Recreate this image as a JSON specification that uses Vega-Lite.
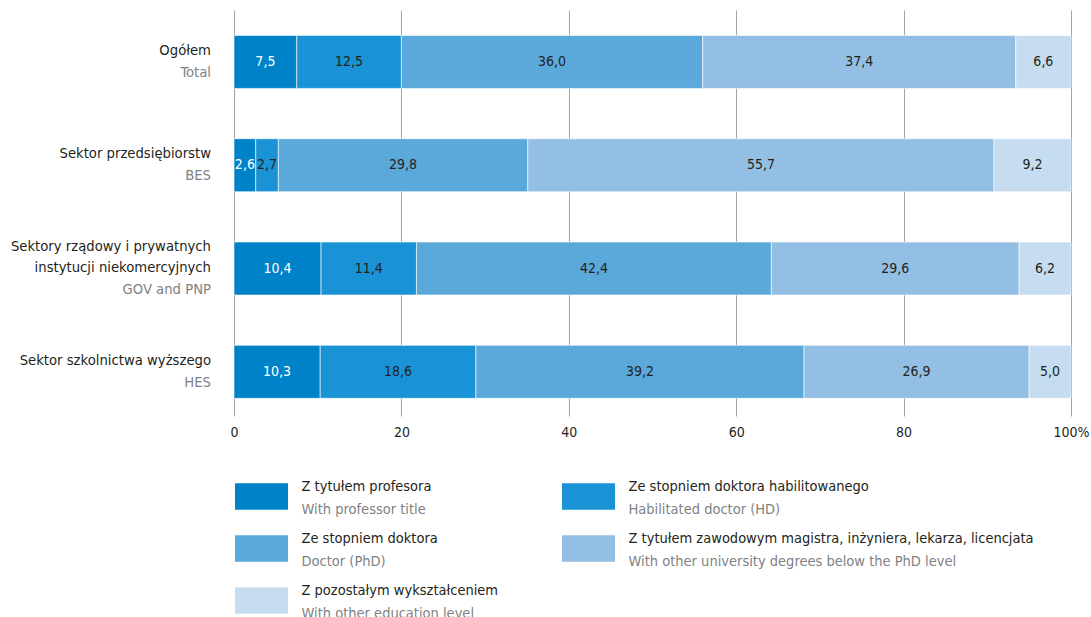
{
  "$schema": "https://vega.github.io/schema/vega-lite/v6.json",
  "autosize": {"type": "pad"},
  "padding": {"left": 10, "top": 10, "right": 0, "bottom": 0},
  "bounds": "flush",
  "spacing": 0,
  "config": {
    "view": {"stroke": null},
    "font": "DejaVu Sans Condensed, sans-serif",
    "text": {"font": "DejaVu Sans Condensed, sans-serif"}
  },
  "datasets": {
    "bars": [
      {"sector": "Total", "cat": "Z tytułem profesora", "k": 1, "v": 7.5},
      {"sector": "Total", "cat": "Ze stopniem doktora habilitowanego", "k": 2, "v": 12.5},
      {"sector": "Total", "cat": "Ze stopniem doktora", "k": 3, "v": 36.0},
      {"sector": "Total", "cat": "Z tytułem zawodowym magistra, inżyniera, lekarza, licencjata", "k": 4, "v": 37.4},
      {"sector": "Total", "cat": "Z pozostałym wykształceniem", "k": 5, "v": 6.6},
      {"sector": "BES", "cat": "Z tytułem profesora", "k": 1, "v": 2.6},
      {"sector": "BES", "cat": "Ze stopniem doktora habilitowanego", "k": 2, "v": 2.7},
      {"sector": "BES", "cat": "Ze stopniem doktora", "k": 3, "v": 29.8},
      {"sector": "BES", "cat": "Z tytułem zawodowym magistra, inżyniera, lekarza, licencjata", "k": 4, "v": 55.7},
      {"sector": "BES", "cat": "Z pozostałym wykształceniem", "k": 5, "v": 9.2},
      {"sector": "GOV and PNP", "cat": "Z tytułem profesora", "k": 1, "v": 10.4},
      {"sector": "GOV and PNP", "cat": "Ze stopniem doktora habilitowanego", "k": 2, "v": 11.4},
      {"sector": "GOV and PNP", "cat": "Ze stopniem doktora", "k": 3, "v": 42.4},
      {"sector": "GOV and PNP", "cat": "Z tytułem zawodowym magistra, inżyniera, lekarza, licencjata", "k": 4, "v": 29.6},
      {"sector": "GOV and PNP", "cat": "Z pozostałym wykształceniem", "k": 5, "v": 6.2},
      {"sector": "HES", "cat": "Z tytułem profesora", "k": 1, "v": 10.3},
      {"sector": "HES", "cat": "Ze stopniem doktora habilitowanego", "k": 2, "v": 18.6},
      {"sector": "HES", "cat": "Ze stopniem doktora", "k": 3, "v": 39.2},
      {"sector": "HES", "cat": "Z tytułem zawodowym magistra, inżyniera, lekarza, licencjata", "k": 4, "v": 26.9},
      {"sector": "HES", "cat": "Z pozostałym wykształceniem", "k": 5, "v": 5.0}
    ],
    "labels": [
      {"sector": "Total", "pl": "Ogółem", "en": "Total", "two": false},
      {"sector": "BES", "pl": "Sektor przedsiębiorstw", "en": "BES", "two": false},
      {"sector": "GOV and PNP", "pl": ["Sektory rządowy i prywatnych", "instytucji niekomercyjnych"], "en": "GOV and PNP", "two": true},
      {"sector": "HES", "pl": "Sektor szkolnictwa wyższego", "en": "HES", "two": false}
    ],
    "legend": [
      {"cat": "Z tytułem profesora", "en": "With professor title", "col": "c1", "row": "r1"},
      {"cat": "Ze stopniem doktora", "en": "Doctor (PhD)", "col": "c1", "row": "r2"},
      {"cat": "Z pozostałym wykształceniem", "en": "With other education level", "col": "c1", "row": "r3"},
      {"cat": "Ze stopniem doktora habilitowanego", "en": "Habilitated doctor (HD)", "col": "c2", "row": "r1"},
      {"cat": "Z tytułem zawodowym magistra, inżyniera, lekarza, licencjata", "en": "With other university degrees below the PhD level", "col": "c2", "row": "r2"}
    ]
  },
  "vconcat": [
    {
      "width": 837,
      "height": 406,
      "layer": [
        {
          "data": {"name": "bars"},
          "transform": [
            {"stack": "v", "groupby": ["sector"], "sort": [{"field": "k", "order": "ascending"}], "as": ["v0", "v1"]}
          ],
          "mark": {"type": "bar", "stroke": "white", "strokeWidth": 0.6},
          "encoding": {
            "y": {"field": "sector", "type": "nominal", "sort": ["Total", "BES", "GOV and PNP", "HES"], "axis": null,
                  "scale": {"paddingInner": 0.487, "paddingOuter": 0.2085, "align": 0.59}},
            "x": {"field": "v0", "type": "quantitative", "scale": {"domain": [0, 100], "nice": false},
                  "axis": {"values": [0, 20, 40, 60, 80, 100], "labelExpr": "datum.value == 100 ? '100%' : datum.label",
                           "domain": false, "ticks": false, "grid": true, "gridColor": "#a3a3a3", "gridWidth": 1,
                           "labelFontSize": 14, "labelColor": "#231f20", "labelPadding": 9, "title": null, "labelFlush": false,
                           "labelFont": "DejaVu Sans Condensed, sans-serif"}},
            "x2": {"field": "v1"},
            "color": {"field": "cat", "type": "nominal",
                      "scale": {"domain": ["Z tytułem profesora", "Ze stopniem doktora habilitowanego", "Ze stopniem doktora", "Z tytułem zawodowym magistra, inżyniera, lekarza, licencjata", "Z pozostałym wykształceniem"],
                                "range": ["#0082c8", "#1993d5", "#5ba8db", "#93bfe4", "#c6dcf0"]},
                      "legend": null}
          }
        },
        {
          "data": {"name": "bars"},
          "transform": [
            {"stack": "v", "groupby": ["sector"], "sort": [{"field": "k", "order": "ascending"}], "as": ["v0", "v1"]},
            {"calculate": "(datum.v0 + datum.v1) / 2", "as": "mid"},
            {"calculate": "replace(format(datum.v, '.1f'), '.', ',')", "as": "lab"}
          ],
          "mark": {"type": "text", "fontSize": 14, "baseline": "middle", "align": "center"},
          "encoding": {
            "y": {"field": "sector", "type": "nominal", "sort": ["Total", "BES", "GOV and PNP", "HES"]},
            "x": {"field": "mid", "type": "quantitative"},
            "text": {"field": "lab"},
            "color": {"condition": {"test": "datum.k === 1", "value": "#ffffff"}, "value": "#231f20"}
          }
        },
        {
          "data": {"name": "labels"},
          "transform": [{"filter": "!datum.two"}],
          "mark": {"type": "text", "fontSize": 14.7, "align": "right", "baseline": "middle", "dx": -23, "dy": -11, "color": "#231f20"},
          "encoding": {
            "y": {"field": "sector", "type": "nominal", "sort": ["Total", "BES", "GOV and PNP", "HES"]},
            "x": {"datum": 0, "type": "quantitative"},
            "text": {"field": "pl"}
          }
        },
        {
          "data": {"name": "labels"},
          "transform": [{"filter": "datum.two"}],
          "mark": {"type": "text", "fontSize": 14.7, "align": "right", "baseline": "middle", "dx": -23, "dy": -22, "lineHeight": 21.5, "color": "#231f20"},
          "encoding": {
            "y": {"field": "sector", "type": "nominal", "sort": ["Total", "BES", "GOV and PNP", "HES"]},
            "x": {"datum": 0, "type": "quantitative"},
            "text": {"field": "pl"}
          }
        },
        {
          "data": {"name": "labels"},
          "transform": [{"filter": "!datum.two"}],
          "mark": {"type": "text", "fontSize": 14.7, "align": "right", "baseline": "middle", "dx": -23, "dy": 11, "color": "#808285"},
          "encoding": {
            "y": {"field": "sector", "type": "nominal", "sort": ["Total", "BES", "GOV and PNP", "HES"]},
            "x": {"datum": 0, "type": "quantitative"},
            "text": {"field": "en"}
          }
        },
        {
          "data": {"name": "labels"},
          "transform": [{"filter": "datum.two"}],
          "mark": {"type": "text", "fontSize": 14.7, "align": "right", "baseline": "middle", "dx": -23, "dy": 21, "color": "#808285"},
          "encoding": {
            "y": {"field": "sector", "type": "nominal", "sort": ["Total", "BES", "GOV and PNP", "HES"]},
            "x": {"datum": 0, "type": "quantitative"},
            "text": {"field": "en"}
          }
        }
      ]
    },
    {
      "width": 837,
      "height": 201,
      "data": {"name": "legend"},
      "encoding": {
        "x": {"field": "col", "type": "nominal", "scale": {"type": "point", "range": [27.5, 354.5], "padding": 0}, "axis": null},
        "y": {"field": "row", "type": "nominal", "scale": {"type": "point", "range": [80.5, 184.5], "padding": 0}, "axis": null}
      },
      "layer": [
        {
          "mark": {"type": "point", "shape": "M-1,-0.5H1V0.5H-1Z", "filled": true, "size": 2809, "opacity": 1, "strokeWidth": 0},
          "encoding": {
            "color": {"field": "cat", "type": "nominal", "legend": null,
                      "scale": {"domain": ["Z tytułem profesora", "Ze stopniem doktora habilitowanego", "Ze stopniem doktora", "Z tytułem zawodowym magistra, inżyniera, lekarza, licencjata", "Z pozostałym wykształceniem"],
                                "range": ["#0082c8", "#1993d5", "#5ba8db", "#93bfe4", "#c6dcf0"]}}
          }
        },
        {
          "mark": {"type": "text", "fontSize": 14.5, "align": "left", "baseline": "middle", "dx": 40, "dy": -10, "color": "#231f20"},
          "encoding": {"text": {"field": "cat"}}
        },
        {
          "mark": {"type": "text", "fontSize": 14.5, "align": "left", "baseline": "middle", "dx": 40, "dy": 13, "color": "#808285"},
          "encoding": {"text": {"field": "en"}}
        }
      ]
    }
  ]
}
